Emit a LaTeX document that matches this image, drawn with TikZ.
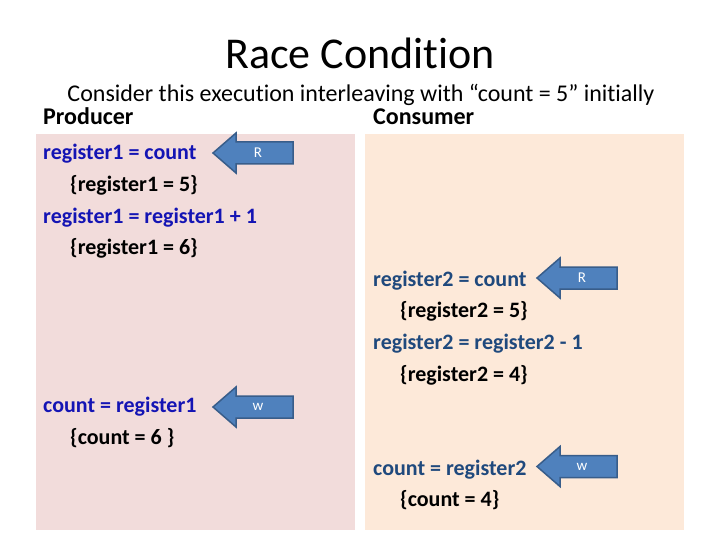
\documentclass[tikz,border=0pt]{standalone}
\usepackage{fontspec}
\setmainfont[Ligatures=NoCommon]{Carlito}
\definecolor{prodbg}{HTML}{F2DCDB}
\definecolor{consbg}{HTML}{FDE9D9}
\definecolor{prodtxt}{RGB}{20,20,180}
\definecolor{constxt}{HTML}{1F497D}
\definecolor{arrfill}{HTML}{4F81BD}
\definecolor{arrline}{HTML}{385D8A}
\tikzset{
  codeline/.style={anchor=base west, inner sep=0pt, font=\fontsize{22}{26}\selectfont\bfseries},
  prodcode/.style={codeline, text=prodtxt},
  conscode/.style={codeline, text=constxt},
  valline/.style={codeline, text=black},
  header/.style={anchor=base west, inner sep=0pt, font=\fontsize{24}{28}\selectfont\bfseries},
  arrowshape/.style={fill=arrfill, draw=arrline, line width=1.5pt, line join=miter},
  arrowlabel/.style={inner sep=0pt, text=white, font=\fontsize{15}{17}\selectfont},
}
\newcommand{\rwarrow}[4]{%
  \draw[arrowshape] (#2,#3) -- ++(23,-20) -- ++(0,9) -- ++(57,0) -- ++(0,22) -- ++(-57,0) -- ++(0,9) -- cycle;
  \node[arrowlabel] (#1) at ({#2+45},#3) {#4};}
\begin{document}
\begin{tikzpicture}[x=1pt,y=-1pt]
\useasboundingbox (0,0) rectangle (720,540);
\fill[white] (0,0) rectangle (720,540);
% boxes
\fill[prodbg] (36,134) rectangle (355,530);
\fill[consbg] (365,134) rectangle (684,530);
% title
\node[anchor=base, inner sep=0pt, font=\fontsize{44}{50}\selectfont] (title) at (360,69) {Race Condition};
\node[anchor=base, inner sep=0pt, font=\fontsize{24}{28}\selectfont] (sub) at (361,102) {Consider this execution interleaving with “count = 5” initially};
\node[header] (prod) at (43,125) {Producer};
\node[header] (cons) at (373,125) {Consumer};
% producer code
\node[prodcode] (p1) at (43,159.5) {register1 = count};
\node[valline] (p2) at (70,192) {\{register1 = 5\}};
\node[prodcode] (p3) at (43,223.5) {register1 = register1 + 1};
\node[valline] (p4) at (70,254.5) {\{register1 = 6\}};
\node[prodcode] (p5) at (43,412.5) {count = register1};
\node[valline] (p6) at (70,444) {\{count = 6 \}};
% consumer code
\node[conscode] (c1) at (373,286) {register2 = count};
\node[valline] (c2) at (400,317.5) {\{register2 = 5\}};
\node[conscode] (c3) at (373,349) {register2 = register2 - 1};
\node[valline] (c4) at (400,381) {\{register2 = 4\}};
\node[conscode] (c5) at (373,475) {count = register2};
\node[valline] (c6) at (400,506.5) {\{count = 4\}};
% arrows
\rwarrow{a1}{213}{153}{R}
\rwarrow{a2}{537}{278}{R}
\rwarrow{a3}{213}{407}{w}
\rwarrow{a4}{537}{466.5}{w}
\end{tikzpicture}
\end{document}
